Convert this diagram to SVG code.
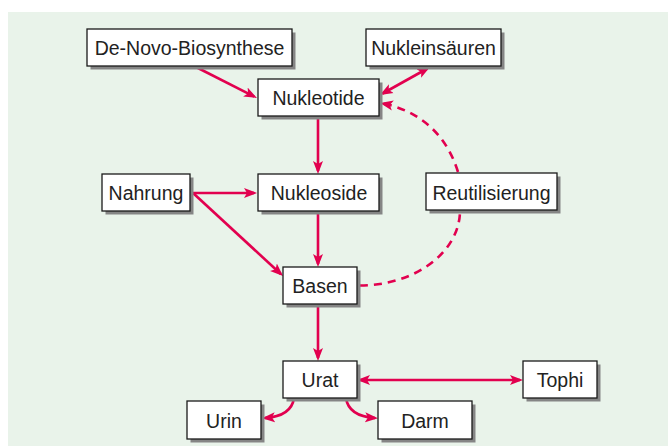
<svg xmlns="http://www.w3.org/2000/svg" width="668" height="446" viewBox="0 0 668 446">
<style>
.bg{fill:#e9f3ea}
.sh{fill:#858585}
.bx{fill:#ffffff;stroke:#1a1a1a;stroke-width:1.3}
.t{font-family:"Liberation Sans",Arial,sans-serif;font-size:19.5px;fill:#222;text-anchor:middle}
.c{fill:none;stroke:#e2004f;stroke-width:2.6}
.d{stroke-dasharray:8 6}
.ah{fill:#e2004f}
</style>
<defs>
<marker id="a" markerUnits="userSpaceOnUse" markerWidth="14" markerHeight="11" refX="10" refY="5.5" orient="auto-start-reverse" viewBox="0 0 14 11">
<path class="ah" d="M0,0.5 L13,5.5 L0,10.5 L3,5.5 Z"/>
</marker>
</defs>
<rect class="bg" x="8" y="12" width="660" height="434"/>
<g id="connectors">
<path class="c" d="M194 66 L254.3 96.6" marker-end="url(#a)"/>
<path class="c" d="M427.4 68.5 L382.6 93.5" marker-start="url(#a)" marker-end="url(#a)"/>
<path class="c" d="M318 116 L318 171" marker-end="url(#a)"/>
<path class="c" d="M191 193 L254 193" marker-end="url(#a)"/>
<path class="c" d="M193 193 L280.8 274" marker-end="url(#a)"/>
<path class="c" d="M318 211 L318 264" marker-end="url(#a)"/>
<path class="c" d="M318 304 L318 358" marker-end="url(#a)"/>
<path class="c" d="M360 380 L520 380" marker-start="url(#a)" marker-end="url(#a)"/>
<path class="c" d="M294 398 C292 412 280 417 265 418" marker-end="url(#a)"/>
<path class="c" d="M346 398 C348 412 360 417 375 418" marker-end="url(#a)"/>
<path class="c d" d="M360 285.5 A100 75 0 0 0 460 210.5"/>
<path class="c d" d="M458 172 C445 130 415 110 383 103.5" marker-end="url(#a)"/>
</g>
<g id="denovo"><rect class="sh" x="90.5" y="32.5" width="205" height="37"/><rect class="bx" x="87" y="29" width="205" height="37"/><text class="t" x="189.5" y="55">De-Novo-Biosynthese</text></g>
<g id="nukleinsaeuren"><rect class="sh" x="369.5" y="32.5" width="135" height="37"/><rect class="bx" x="366" y="29" width="135" height="37"/><text class="t" x="433.5" y="55">Nukleinsäuren</text></g>
<g id="nukleotide"><rect class="sh" x="261.5" y="82.5" width="121" height="37"/><rect class="bx" x="258" y="79" width="121" height="37"/><text class="t" x="318.5" y="105">Nukleotide</text></g>
<g id="nahrung"><rect class="sh" x="105.5" y="177.5" width="88" height="37"/><rect class="bx" x="102" y="174" width="88" height="37"/><text class="t" x="146" y="200">Nahrung</text></g>
<g id="nukleoside"><rect class="sh" x="261.5" y="177.5" width="121" height="37"/><rect class="bx" x="258" y="174" width="121" height="37"/><text class="t" x="319" y="200">Nukleoside</text></g>
<g id="reutilisierung"><rect class="sh" x="429.5" y="176.5" width="131" height="37"/><rect class="bx" x="426" y="173" width="131" height="37"/><text class="t" x="491.5" y="199.5">Reutilisierung</text></g>
<g id="basen"><rect class="sh" x="286.5" y="270.5" width="74" height="37"/><rect class="bx" x="283" y="267" width="74" height="37"/><text class="t" x="320" y="293">Basen</text></g>
<g id="urat"><rect class="sh" x="286.5" y="364.5" width="74" height="37"/><rect class="bx" x="283" y="361" width="74" height="37"/><text class="t" x="320" y="387">Urat</text></g>
<g id="tophi"><rect class="sh" x="526.5" y="364.5" width="74" height="37"/><rect class="bx" x="523" y="361" width="74" height="37"/><text class="t" x="560" y="387">Tophi</text></g>
<g id="urin"><rect class="sh" x="190.5" y="404.5" width="74" height="38"/><rect class="bx" x="187" y="401" width="74" height="38"/><text class="t" x="224" y="428">Urin</text></g>
<g id="darm"><rect class="sh" x="381.5" y="404.5" width="94" height="38"/><rect class="bx" x="378" y="401" width="94" height="38"/><text class="t" x="425" y="428">Darm</text></g>
</svg>
